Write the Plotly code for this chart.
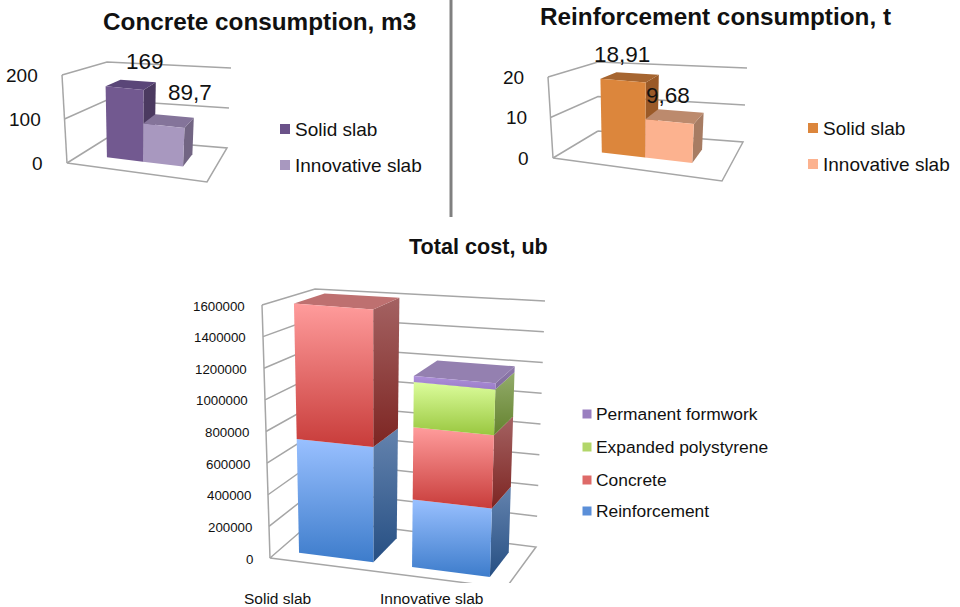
import plotly.graph_objects as go

# ---------- data ----------
concrete_categories = ["Solid slab", "Innovative slab"]
concrete_values = [169, 89.7]
concrete_labels = ["169", "89,7"]
concrete_ticks = [0, 100, 200]

reinf_categories = ["Solid slab", "Innovative slab"]
reinf_values = [18.91, 9.68]
reinf_labels = ["18,91", "9,68"]
reinf_ticks = [0, 10, 20]

cost_categories = ["Solid slab", "Innovative slab"]
cost_series = ["Reinforcement", "Concrete", "Expanded polystyrene", "Permanent formwork"]
cost_reinforcement = [730000, 425000]
cost_concrete = [870000, 454000]
cost_polystyrene = [0, 285000]
cost_formwork = [0, 38000]
cost_ticks = [0, 200000, 400000, 600000, 800000, 1000000, 1200000, 1400000, 1600000]

# ---------- oblique 3-D frame of each panel (pixel anchors of the box corners) ----------
FRAME1 = dict(fl0=(67, 163), fr0=(207, 182), bl0=(107, 138), br0=(227, 148),
              fl1=(62, 75), fr1=(213, 93), bl1=(107, 62), br1=(231, 68))
FRAME2 = dict(fl0=(553, 158), fr0=(722, 181), bl0=(598, 131), br0=(743, 142),
              fl1=(548, 77), fr1=(728, 95), bl1=(598, 62), br1=(747, 68))
FRAME3 = dict(fl0=(270, 558), fr0=(506, 588), bl0=(315, 519), br0=(536, 547),
              fl1=(262, 305), fr1=(515, 326), bl1=(315, 289), br1=(545, 301))

GRID = "#A6A6A6"
TEXT = "#111111"
FONT = "Liberation Sans, Arial, sans-serif"

fig = go.Figure()
notes = []


def lerp(a, b, t):
    return a + (b - a) * t


def project(f, u, v, w):
    """u across, v depth (0 front, 1 back), w height fraction -> page position."""
    out = []
    for i in (0, 1):
        low = lerp(lerp(f["fl0"][i], f["fr0"][i], u), lerp(f["bl0"][i], f["br0"][i], u), v)
        high = lerp(lerp(f["fl1"][i], f["fr1"][i], u), lerp(f["bl1"][i], f["br1"][i], u), v)
        out.append(lerp(low, high, w))
    return out


def polyline(points, color=GRID, width=1.5):
    fig.add_trace(go.Scatter(x=[p[0] for p in points], y=[p[1] for p in points], mode="lines",
                             line=dict(color=color, width=width), hoverinfo="skip", showlegend=False))


def face(points, fill):
    xs = [p[0] for p in points] + [points[0][0]]
    ys = [p[1] for p in points] + [points[0][1]]
    kw = dict(fillcolor=fill) if isinstance(fill, str) else dict(
        fillgradient=dict(type="vertical", colorscale=[[0, fill[0]], [1, fill[1]]]))
    fig.add_trace(go.Scatter(x=xs, y=ys, mode="lines", fill="toself", line=dict(width=0),
                             hoverinfo="skip", showlegend=False, **kw))


def text(x, y, s, size, anchor="left", bold=False):
    notes.append(dict(x=x, y=y, xref="x", yref="y", text=f"<b>{s}</b>" if bold else s, showarrow=False,
                      xanchor=anchor, yanchor="middle",
                      font=dict(family=FONT, size=size, color=TEXT)))


def frame(f, ticks, maxv, size, dx, dy):
    for t in ticks:
        w = t / maxv
        if t == 0:
            continue
        polyline([project(f, 0, 0, w), project(f, 0, 1, w), project(f, 1, 1, w)])
    polyline([project(f, 0, 0, 0), project(f, 0, 0, 1)])
    polyline([project(f, 0, 1, 0), project(f, 0, 0, 0), project(f, 1, 0, 0),
              project(f, 1, 1, 0), project(f, 0, 1, 0)])
    for t in ticks:
        x, y = project(f, 0, 0, t / maxv)
        text(x + dx, y + dy, str(t), size, anchor="right")


def box(f, u0, u1, v0, v1, w0, w1, front, side, top=None):
    face([project(f, u1, v0, w0), project(f, u1, v1, w0), project(f, u1, v1, w1), project(f, u1, v0, w1)], side)
    if top:
        face([project(f, u0, v0, w1), project(f, u1, v0, w1), project(f, u1, v1, w1), project(f, u0, v1, w1)], top)
    face([project(f, u0, v0, w0), project(f, u1, v0, w0), project(f, u1, v0, w1), project(f, u0, v0, w1)], front)


def legend(x, ys, names, colors, msize, size, gap):
    for y, n, c in zip(ys, names, colors):
        fig.add_trace(go.Scatter(x=[x], y=[y], mode="markers", hoverinfo="skip", showlegend=False,
                                 marker=dict(symbol="square", size=msize, color=c, line=dict(width=0))))
        text(x + gap, y, n, size)


# ---------- panel 1 ----------
frame(FRAME1, concrete_ticks, 200, 19, -22, 0)
U1 = [(0.195, 0.466), (0.466, 0.767)]
STY1 = [("#725990", "#4B3A60", "#5A4678"), ("#A898BF", "#726583", "#84749A")]
for val, (a, b), (fr, si, to) in zip(concrete_values, U1, STY1):
    box(FRAME1, a, b, 0.35, 0.73, 0, val / 200, fr, si, to)
text(259, 21, "Concrete consumption, m3", 24.3, "center", True)
for pos, s in zip([(145, 61), (190, 92)], concrete_labels):
    text(pos[0], pos[1], s, 22.5, "center")
legend(285, [129, 165], concrete_categories, ["#6B5289", "#A898BF"], 10, 19, 8)

# ---------- panel 2 ----------
frame(FRAME2, reinf_ticks, 20, 19, -22, 0)
U2 = [(0.206, 0.475), (0.475, 0.769)]
STY2 = [("#DC863C", "#9A5A28", "#A66530"), ("#FCB28F", "#A77C63", "#BC8A6D")]
for val, (a, b), (fr, si, to) in zip(reinf_values, U2, STY2):
    box(FRAME2, a, b, 0.35, 0.72, 0, val / 20, fr, si, to)
text(715, 16, "Reinforcement consumption, t", 24.3, "center", True)
for pos, s in zip([(622, 54), (668, 95)], reinf_labels):
    text(pos[0], pos[1], s, 22.5, "center")
legend(813, [128, 164], reinf_categories, ["#DC863C", "#FCB28F"], 10, 19, 8)

# ---------- panel 3 ----------
frame(FRAME3, cost_ticks, 1600000, 13.3, -15, 1)
U3 = [(0.086, 0.405), (0.571, 0.905)]
STY3 = [
    (("#3D7CCB", "#99C0FF"), ("#264F83", "#6483AE"), "#6483AE"),
    (("#C83C3A", "#FF9C9C"), ("#7D2522", "#A46262"), "#BE7070"),
    (("#99C73F", "#DCFD9C"), ("#64822E", "#93AC6B"), "#93AC6B"),
    (("#9A7CC8", "#AE90DA"), ("#7F6A9C", "#8F7AAC"), "#9480B0"),
]
stacks = [cost_reinforcement, cost_concrete, cost_polystyrene, cost_formwork]
for i, (a, b) in enumerate(U3):
    base = 0
    parts = [(s[i], st) for s, st in zip(stacks, STY3) if s[i] > 0]
    for k, (val, (fr, si, to)) in enumerate(parts):
        last = k == len(parts) - 1
        box(FRAME3, a, b, 0.2, 0.8, base / 1600000, (base + val) / 1600000, fr, si, to if last else None)
        base += val
text(478, 246, "Total cost, ub", 21.6, "center", True)
for x, s in zip([277, 431], cost_categories):
    text(x, 598, s, 15.5, "center")
legend(587, [511, 480, 447, 414], cost_series, ["#5B8FD8", "#DE6A68", "#B2D66A", "#9A7FC0"], 9, 17.4, 7)

fig.update_layout(
    width=960, height=607, margin=dict(l=0, r=0, t=0, b=0),
    paper_bgcolor="white", plot_bgcolor="white", showlegend=False,
    xaxis=dict(range=[0, 960], visible=False, fixedrange=True),
    yaxis=dict(range=[607, 0], visible=False, fixedrange=True),
    annotations=notes,
    shapes=[
        dict(type="line", xref="x", yref="y", x0=451, x1=451, y0=0, y1=217,
             line=dict(color="#808080", width=3)),
        dict(type="rect", xref="x", yref="y", x0=440, x1=525, y0=583, y1=592,
             fillcolor="white", line=dict(width=0)),
    ],
)
fig.write_html("out.html", config=dict(displayModeBar=False),
               post_script="document.body.style.margin='0';document.body.style.overflow='hidden';")
